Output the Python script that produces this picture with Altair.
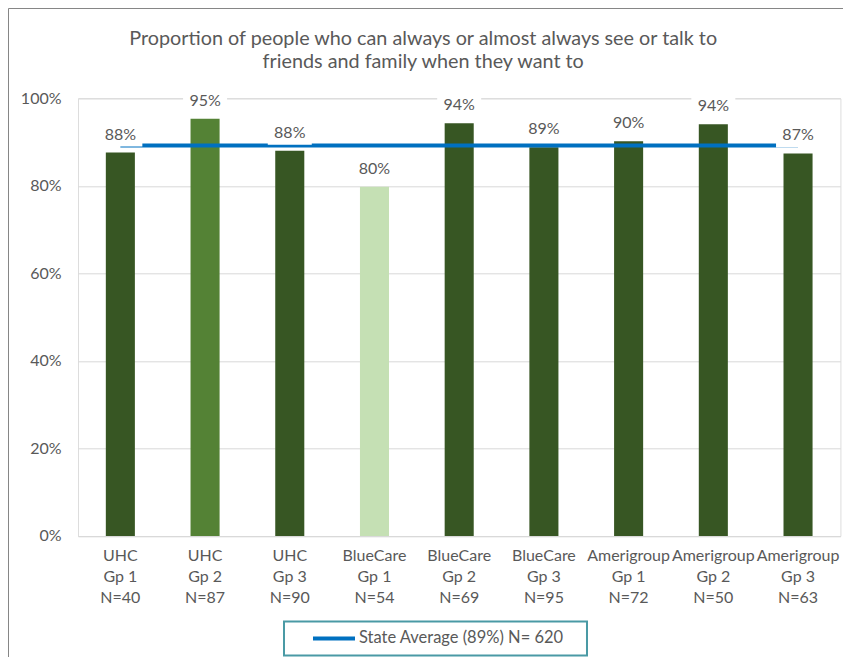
import altair as alt
import pandas as pd

# ---- data ----
groups = ["UHC|Gp 1|N=40", "UHC|Gp 2|N=87", "UHC|Gp 3|N=90",
          "BlueCare|Gp 1|N=54", "BlueCare|Gp 2|N=69", "BlueCare|Gp 3|N=95",
          "Amerigroup|Gp 1|N=72", "Amerigroup|Gp 2|N=50", "Amerigroup|Gp 3|N=63"]
values = [0.876, 0.953, 0.880, 0.798, 0.943, 0.888, 0.902, 0.941, 0.874]
bar_colors = ["#375623", "#548235", "#375623", "#C5E0B4", "#375623",
              "#375623", "#375623", "#375623", "#375623"]
state_avg = 0.892
legend_label = "State Average (89%) N= 620"
title_lines = ["Proportion of people who can always or almost always see or talk to",
               "friends and family when they want to"]
y_ticks = [0, 0.2, 0.4, 0.6, 0.8, 1.0]

df = pd.DataFrame({"group": groups, "value": values, "color": bar_colors,
                   "avg": [state_avg] * len(groups)})
leg_df = pd.DataFrame({"label": [legend_label]})

W = 762.4
H = 437.7
FONT = "Lato"
GREY = "#595959"
FS = 16

x_axis = alt.Axis(title=None, labelExpr="split(datum.label, '|')", labelAngle=0,
                  ticks=False, domainColor="#D9D9D9", labelPadding=12,
                  labelLineHeight=21, labelFontSize=FS, labelColor=GREY,
                  labelOverlap=False, grid=False, labelFont=FONT, labelBaseline="top")
x_scale = alt.Scale(paddingInner=0.657, paddingOuter=0.3285)
y_axis = alt.Axis(title=None, format=".0%", values=y_ticks, gridColor="#D9D9D9",
                  domain=False, ticks=False, labelPadding=17, labelFontSize=FS,
                  labelColor=GREY, labelFont=FONT)
y_scale = alt.Scale(domain=[0, 1], nice=False)

base = alt.Chart(df)

bars = base.mark_bar().encode(
    x=alt.X("group:N", sort=groups, scale=x_scale, axis=x_axis),
    y=alt.Y("value:Q", scale=y_scale, axis=y_axis),
    fill=alt.Fill("color:N", scale=None),
)

line = base.mark_line(strokeWidth=4, color="#0070C0").encode(
    x=alt.X("group:N", sort=groups, scale=x_scale, axis=x_axis, bandPosition=0.5),
    y=alt.Y("avg:Q", scale=y_scale, axis=y_axis),
)

boxes = base.mark_point(shape="M-1,-0.545L1,-0.545L1,0.545L-1,0.545Z", size=1936,
                        filled=True, fill="white", opacity=1, strokeWidth=0,
                        yOffset=-18).encode(
    x=alt.X("group:N", sort=groups, scale=x_scale, axis=x_axis, bandPosition=0.5),
    y=alt.Y("value:Q", scale=y_scale, axis=y_axis),
)

labels = base.mark_text(dy=-18, baseline="middle", align="center", fontSize=FS,
                        font=FONT, color=GREY).encode(
    x=alt.X("group:N", sort=groups, scale=x_scale, axis=x_axis, bandPosition=0.5),
    y=alt.Y("value:Q", scale=y_scale, axis=y_axis),
    text=alt.Text("value:Q", format=".0%"),
)

leg = alt.Chart(leg_df)
leg_box = leg.mark_rect(fillOpacity=0, stroke="#4A9AA5", strokeWidth=2).encode(
    x=alt.value(206), x2=alt.value(509), y=alt.value(H + 85.5), y2=alt.value(H + 119.5))
leg_line = leg.mark_rule(strokeWidth=4, color="#0070C0").encode(
    x=alt.value(235), x2=alt.value(277), y=alt.value(H + 102.5))
leg_text = leg.mark_text(align="left", baseline="middle", fontSize=16.5, font=FONT,
                         color=GREY).encode(
    x=alt.value(281), y=alt.value(H + 102.5), text="label:N")

border = leg.mark_rect(fillOpacity=0, stroke="#868686", strokeWidth=1).encode(
    x=alt.value(-69.5), x2=alt.value(W + 200), y=alt.value(-89.8), y2=alt.value(H + 300))

chart = alt.layer(bars, line, boxes, labels, leg_box, leg_line, leg_text, border).properties(
    width=W, height=H,
    autosize="none",
    padding={"left": 70, "top": 90.3, "right": 3, "bottom": 121},
    title=alt.TitleParams(title_lines, fontSize=19.8, font=FONT, color=GREY,
                          fontWeight="normal", anchor="middle", dx=-36, offset=20,
                          dy=83.5, lineHeight=23),
).configure_view(stroke=None).configure(background="white")

chart.save("out.html", embed_options={"renderer": "svg", "actions": False})
